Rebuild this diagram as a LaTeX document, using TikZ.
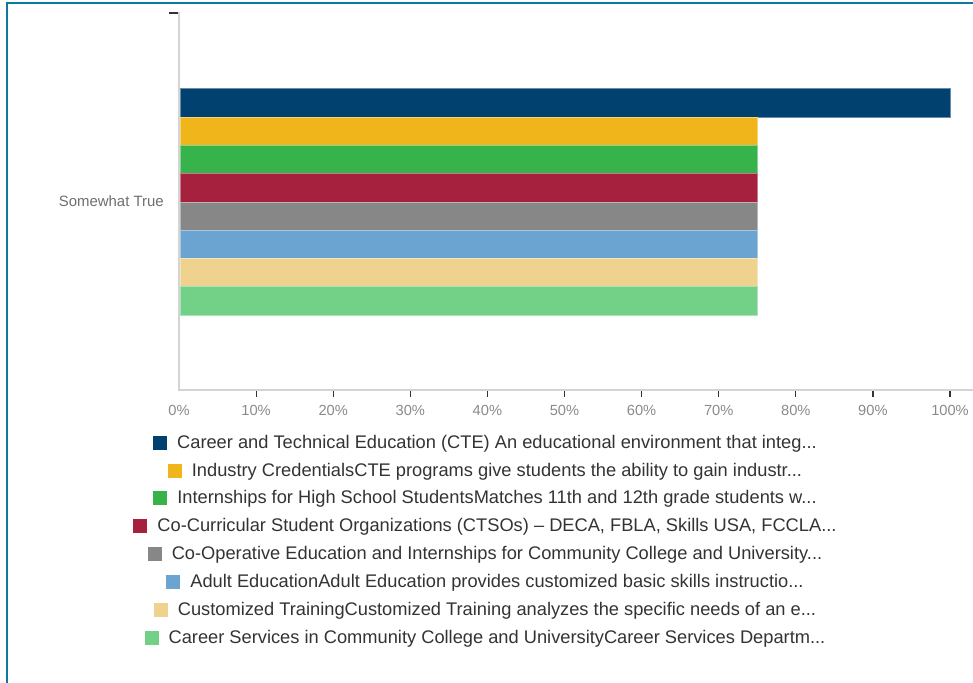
\documentclass[tikz,border=0pt]{standalone}
\usepackage{fontspec}
\setmainfont{Liberation Sans}
\definecolor{frameC}{HTML}{0B7A9C}
\definecolor{cA}{HTML}{00416F}
\definecolor{cB}{HTML}{F1B51C}
\definecolor{cC}{HTML}{36B44B}
\definecolor{cD}{HTML}{A6213E}
\definecolor{cE}{HTML}{878787}
\definecolor{cF}{HTML}{6CA4D1}
\definecolor{cG}{HTML}{EFD28E}
\definecolor{cH}{HTML}{73D087}
\definecolor{axisC}{HTML}{D4D4D4}
\definecolor{tickC}{HTML}{333333}
\definecolor{lblC}{HTML}{8A8A8A}
\definecolor{catC}{HTML}{6E6E6E}
\definecolor{legC}{HTML}{333333}
\tikzset{
  bar/.style={draw=#1!60!white, line width=0.4pt, fill=#1},
  ticklbl/.style={font=\fontsize{11}{13}\selectfont, text=lblC, inner sep=0pt},
  catlbl/.style={font=\fontsize{11.2}{13}\selectfont, text=catC, inner sep=0pt, anchor=east},
  legitem/.style={font=\fontsize{13.7}{16}\selectfont, text=legC, inner sep=0pt}
}
\newcommand{\legsq}[1]{\textcolor{#1}{\rule[-0.05em]{10.5pt}{10.5pt}}\hspace{7.5pt}}
\begin{document}
\begin{tikzpicture}[x=0.75pt,y=-0.75pt]
\useasboundingbox (0,0) rectangle (973,682);
% frame
\draw[frameC, line width=1.6pt] (7,683) -- (7,3) -- (974,3);
% axes
\draw[axisC, line width=0.9pt] (179,12) -- (179,390) -- (973,390);
\draw[tickC, line width=1pt] (169,13) -- (178,13);
% bars
\fill[bar=cA] (180,88) rectangle (950,117);
\fill[bar=cB] (180,117.5) rectangle (757,145);
\fill[bar=cC] (180,145) rectangle (757,173);
\fill[bar=cD] (180,173) rectangle (757,202);
\fill[bar=cE] (180,202) rectangle (757,230);
\fill[bar=cF] (180,230) rectangle (757,258);
\fill[bar=cG] (180,258) rectangle (757,286);
\fill[bar=cH] (180,286) rectangle (757,315);
% category label
\node[catlbl] (cat) at (164,201) {Somewhat True};
% ticks and labels
\foreach \i in {0,...,10} {
  \pgfmathsetmacro{\xx}{179+77.1*\i}
  \ifnum\i>0 \draw[tickC, line width=0.9pt] (\xx,391) -- (\xx,397); \fi
  \pgfmathtruncatemacro{\pc}{10*\i}
  \node[ticklbl] (t\i) at (\xx,410) {\pc\%};
}
% legend
\node[legitem] (l1) at (485,444) {\legsq{cA}Career and Technical Education (CTE) An educational environment that integ...};
\node[legitem] (l2) at (485,472) {\legsq{cB}Industry CredentialsCTE programs give students the ability to gain industr...};
\node[legitem] (l3) at (485,499) {\legsq{cC}Internships for High School StudentsMatches 11th and 12th grade students w...};
\node[legitem] (l4) at (485,527) {\legsq{cD}Co-Curricular Student Organizations (CTSOs) -- DECA, FBLA, Skills USA, FCCLA...};
\node[legitem] (l5) at (485,555) {\legsq{cE}Co-Operative Education and Internships for Community College and University...};
\node[legitem] (l6) at (485,583) {\legsq{cF}Adult EducationAdult Education provides customized basic skills instructio...};
\node[legitem] (l7) at (485,611) {\legsq{cG}Customized TrainingCustomized Training analyzes the specific needs of an e...};
\node[legitem] (l8) at (485,639) {\legsq{cH}Career Services in Community College and UniversityCareer Services Departm...};
\end{tikzpicture}
\end{document}
